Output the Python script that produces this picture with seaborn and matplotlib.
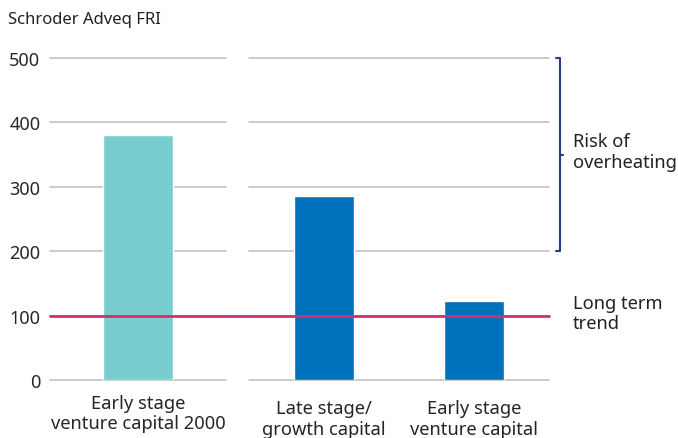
import matplotlib.pyplot as plt
import pandas as pd
import seaborn as sns

LEFT_LABELS = ["Early stage\nventure capital 2000"]
LEFT_VALUES = [380]
RIGHT_LABELS = ["Late stage/\ngrowth capital", "Early stage\nventure capital"]
RIGHT_VALUES = [285, 123]
TREND_VALUE = 100
RISK_RANGE = (200, 500)
Y_TICKS = [0, 100, 200, 300, 400, 500]
Y_LABEL = "Schroder Adveq FRI"

TEAL = "#7ACDCE"
BLUE = "#0071BC"
PINK = "#D42E72"
NAVY = "#1F3C88"
GRID = "#BDBDBD"

W, H = 678, 439


def frac_box(x0, x1, y_top, y_bottom):
    return [x0 / W, (H - y_bottom) / H, (x1 - x0) / W, (y_bottom - y_top) / H]


def main():
    sns.set_style("white")
    plt.rcParams["font.family"] = ["Noto Sans", "DejaVu Sans"]
    plt.rcParams["text.color"] = "#222222"

    fig = plt.figure(figsize=(W / 100, H / 100), dpi=100)
    ax1 = fig.add_axes(frac_box(50, 226, 59, 381))
    ax2 = fig.add_axes(frac_box(249, 549, 59, 381))
    ax1.set_zorder(3)

    df_left = pd.DataFrame({"label": LEFT_LABELS, "value": LEFT_VALUES})
    df_right = pd.DataFrame({"label": RIGHT_LABELS, "value": RIGHT_VALUES})

    for ax in (ax1, ax2):
        for t in Y_TICKS:
            ax.axhline(t, color=GRID, lw=1.1, zorder=0, clip_on=False)

    sns.barplot(data=df_left, x="label", y="value", color=TEAL, width=0.40,
                saturation=1, ax=ax1, zorder=2)
    sns.barplot(data=df_right, x="label", y="value", color=BLUE, width=0.40,
                saturation=1, ax=ax2, zorder=2)

    ax1.set_xlim(-0.5, 0.5)
    ax2.set_xlim(-0.5, 1.5)
    for ax in (ax1, ax2):
        ax.set_ylim(0, 500)
        ax.set_xlabel("")
        ax.set_ylabel("")
        sns.despine(ax=ax, left=True, bottom=True)
        ax.tick_params(axis="x", length=0, labelsize=13.2, pad=10)
        ax.set_facecolor("none")

    ax1.set_yticks(Y_TICKS)
    ax1.set_yticklabels([str(t) for t in Y_TICKS])
    ax1.tick_params(axis="y", length=0, labelsize=13, pad=7)
    ax2.set_yticks([])
    ax2.tick_params(axis="x", pad=14)
    for lab in ax1.get_xticklabels() + ax2.get_xticklabels():
        lab.set_linespacing(1.17)

    # long term trend line across both groups
    ax1.axhline(TREND_VALUE, xmin=0, xmax=(549 - 50) / 176, color=PINK,
                lw=2, zorder=5, clip_on=False)

    # bracket for risk of overheating
    bx = 1.036
    tr = ax2.get_yaxis_transform()
    lo, hi = RISK_RANGE
    mid = (lo + hi) / 2
    ax2.plot([bx - 0.012, bx, bx, bx - 0.012], [lo, lo, hi, hi],
             color=NAVY, lw=1.5, transform=tr, clip_on=False)
    ax2.plot([bx, bx + 0.012], [mid, mid], color=NAVY, lw=1.5,
             transform=tr, clip_on=False)
    ax2.text(1.08, mid + 5, "Risk of\noverheating", transform=tr,
             fontsize=13.2, va="center", ha="left", linespacing=1.17)
    ax2.text(1.08, TREND_VALUE + 4, "Long term\ntrend", transform=tr,
             fontsize=13.2, va="center", ha="left", linespacing=1.17)

    fig.text(8 / W, 1 - 20 / H, Y_LABEL, fontsize=12, va="center",
             ha="left")

    fig.savefig("out.png", dpi=100)


if __name__ == "__main__":
    main()
